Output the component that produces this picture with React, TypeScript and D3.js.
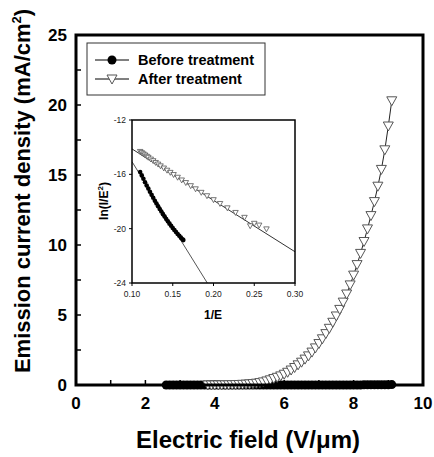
import React from "react";
import * as d3 from "d3";

// Main plot data
const beforeE = [2.6,2.7,2.8,2.9,3.0,3.1,3.2,3.3,3.4,3.5,3.6,3.7,3.8,3.9,4.0,4.1,4.2,4.3,4.4,4.5,4.6,4.7,4.8,4.9,5.0,5.1,5.2,5.3,5.4,5.5,5.6,5.7,5.8,5.9,6.0,6.1,6.2,6.3,6.4,6.5,6.6,6.7,6.8,6.9,7.0,7.1,7.2,7.3,7.4,7.5,7.6,7.7,7.8,7.9,8.0,8.1,8.2,8.3,8.4,8.5,8.6,8.7,8.8,8.9,9.0,9.1];
const beforeJ = [0,0,0,0,0,0,0,0,0,0,0,0,0,0,0,0,0,0,0,0,0,0,0,0,0,0,0,0,0,0,0,0,0,0,0,0,0,0,0,0,0,0,0,0,0,0,0,0,0,0,0,0,0,0,0,0,0,0.01,0.01,0.01,0.01,0.01,0.02,0.02,0.02,0.03];
const afterE = [3.8,3.9,4.0,4.1,4.2,4.3,4.4,4.5,4.6,4.7,4.8,4.9,5.0,5.1,5.2,5.3,5.4,5.5,5.6,5.7,5.8,5.9,6.0,6.1,6.2,6.3,6.4,6.5,6.6,6.7,6.8,6.9,7.0,7.1,7.2,7.3,7.4,7.5,7.6,7.7,7.8,7.9,8.0,8.1,8.2,8.3,8.4,8.5,8.6,8.7,8.8,8.9,9.0,9.1];
const afterJ = [0.002,0.003,0.004,0.006,0.008,0.011,0.015,0.02,0.027,0.036,0.048,0.062,0.08,0.10,0.13,0.17,0.22,0.29,0.37,0.46,0.55,0.65,0.77,0.91,1.07,1.25,1.44,1.63,1.85,2.08,2.35,2.65,2.96,3.30,3.67,4.05,4.48,4.93,5.40,5.92,6.50,7.15,7.85,8.60,9.40,10.25,11.15,12.10,13.10,14.20,15.40,16.80,18.50,20.30];
const xTicks = [0,2,4,6,8,10];
const xMinorTicks = [1,2,3,4,5,6,7,8,9];
const yTicks = [0,5,10,15,20,25];
const yMinorTicks = [2.5,5,7.5,10,12.5,15,17.5,20,22.5];
const legendLabels = ["Before treatment", "After treatment"];

// Inset (Fowler-Nordheim) data
const insetBeforeX = [0.110,0.112,0.114,0.116,0.118,0.120,0.122,0.124,0.126,0.128,0.130,0.132,0.134,0.136,0.138,0.140,0.142,0.144,0.146,0.148,0.150,0.152,0.154,0.156,0.158,0.160,0.162,0.163];
const insetBeforeY = [-15.83,-16.08,-16.33,-16.58,-16.82,-17.05,-17.28,-17.51,-17.72,-17.94,-18.15,-18.35,-18.55,-18.74,-18.93,-19.11,-19.29,-19.46,-19.63,-19.79,-19.95,-20.10,-20.25,-20.39,-20.52,-20.66,-20.78,-20.84];
const insetAfterX = [0.110,0.112,0.114,0.116,0.118,0.120,0.123,0.126,0.129,0.132,0.135,0.139,0.143,0.147,0.151,0.156,0.161,0.166,0.172,0.178,0.185,0.192,0.200,0.208,0.217,0.227,0.238,0.245,0.250,0.256,0.265];
const insetAfterY = [-14.33,-14.42,-14.51,-14.59,-14.68,-14.76,-14.89,-15.01,-15.14,-15.26,-15.39,-15.55,-15.71,-15.87,-16.03,-16.23,-16.43,-16.62,-16.85,-17.08,-17.34,-17.59,-17.88,-18.16,-18.48,-18.82,-19.18,-19.80,-19.62,-19.75,-20.03];
const fitBeforeX = [0.10, 0.1924];
const fitBeforeY = [-15.07, -24];
const fitAfterX = [0.10, 0.30];
const fitAfterY = [-14.13, -21.7];
const insetXTicks = [0.10,0.15,0.20,0.25,0.30];
const insetYTicks = [-12,-16,-20,-24];

const FONT = "'Liberation Sans', Arial, sans-serif";

const tri = (s: number) => `M${-5*s},${-4*s}L${5*s},${-4*s}L0,${5*s}Z`;

export default function App() {
  const x = d3.scaleLinear().domain([0, 10]).range([76, 423]);
  const y = d3.scaleLinear().domain([0, 25]).range([385, 35]);
  const ix = d3.scaleLinear().domain([0.10, 0.30]).range([132, 295]);
  const iy = d3.scaleLinear().domain([-12, -24]).range([120, 283]);

  const lineMain = d3.line<[number, number]>().x(d => x(d[0])).y(d => y(d[1]));
  const lineInset = d3.line<[number, number]>().x(d => ix(d[0])).y(d => iy(d[1]));

  const before: [number, number][] = beforeE.map((e, i) => [e, beforeJ[i]]);
  const after: [number, number][] = afterE.map((e, i) => [e, afterJ[i]]);
  const insB: [number, number][] = insetBeforeX.map((v, i) => [v, insetBeforeY[i]]);
  const insA: [number, number][] = insetAfterX.map((v, i) => [v, insetAfterY[i]]);
  const fitB: [number, number][] = fitBeforeX.map((v, i) => [v, fitBeforeY[i]]);
  const fitA: [number, number][] = fitAfterX.map((v, i) => [v, fitAfterY[i]]);

  return (
    <svg width={434} height={457} style={{ position: "absolute", left: 0, top: 0, background: "#fff" }} fontFamily={FONT}>
      <rect x={0} y={0} width={434} height={457} fill="#fff" />
      <defs>
        <clipPath id="insetClip">
          <rect x={132} y={120} width={163} height={163} />
        </clipPath>
      </defs>

      {/* minor/major ticks (inward) */}
      {xMinorTicks.map(t => (
        <line key={"xt" + t} x1={x(t)} x2={x(t)} y1={y(0)} y2={y(0) - 5} stroke="#000" strokeWidth={1.5} />
      ))}
      {yMinorTicks.map(t => (
        <line key={"yt" + t} x1={x(0)} x2={x(0) + 5} y1={y(t)} y2={y(t)} stroke="#000" strokeWidth={1.5} />
      ))}

      {/* Before treatment */}
      <path d={lineMain(before) || ""} fill="none" stroke="#000" strokeWidth={1} />
      {before.map((d, i) => (
        <circle key={"b" + i} cx={x(d[0])} cy={y(d[1])} r={4.5} fill="#000" />
      ))}

      {/* After treatment */}
      <path d={lineMain(after) || ""} fill="none" stroke="#222" strokeWidth={1} />
      {after.map((d, i) => (
        <path key={"a" + i} d={tri(1)} transform={`translate(${x(d[0])},${y(d[1])})`} fill="#fff" stroke="#555" strokeWidth={1} />
      ))}

      {/* frame */}
      <rect x={x(0)} y={y(25)} width={x(10) - x(0)} height={y(0) - y(25)} fill="none" stroke="#000" strokeWidth={3} />

      {/* tick labels */}
      {xTicks.map(t => (
        <text key={"xl" + t} x={x(t)} y={409} textAnchor="middle" fontSize={17} fontWeight="bold">{t}</text>
      ))}
      {yTicks.map(t => (
        <text key={"yl" + t} x={67} y={y(t) + 6} textAnchor="end" fontSize={17} fontWeight="bold">{t}</text>
      ))}

      {/* axis titles */}
      <text x={248} y={448} textAnchor="middle" fontSize={24} fontWeight="bold">Electric field (V/μm)</text>
      <text transform="translate(30,191) rotate(-90)" textAnchor="middle" fontSize={22} fontWeight="bold">
        Emission current density (mA/cm<tspan dy={-9} fontSize={13}>2</tspan><tspan dy={9}>)</tspan>
      </text>

      {/* legend */}
      <rect x={87} y={43} width={178} height={52} fill="#fff" stroke="#333" strokeWidth={1} />
      <line x1={95} x2={129} y1={60} y2={60} stroke="#000" strokeWidth={1} />
      <circle cx={112} cy={60} r={4.5} fill="#000" />
      <text x={138} y={65} fontSize={14.5} fontWeight="bold">{legendLabels[0]}</text>
      <line x1={95} x2={129} y1={79} y2={79} stroke="#000" strokeWidth={1} />
      <path d={tri(1)} transform="translate(112,79)" fill="#fff" stroke="#555" strokeWidth={1} />
      <text x={138} y={84} fontSize={14.5} fontWeight="bold">{legendLabels[1]}</text>

      {/* inset */}
      <rect x={132} y={120} width={163} height={163} fill="#fff" />
      <g clipPath="url(#insetClip)">
        <path d={lineInset(fitB) || ""} fill="none" stroke="#555" strokeWidth={1} />
        <path d={lineInset(fitA) || ""} fill="none" stroke="#333" strokeWidth={1} />
        {insB.map((d, i) => (
          <circle key={"ib" + i} cx={ix(d[0])} cy={iy(d[1])} r={2.3} fill="#000" />
        ))}
        {insA.map((d, i) => (
          <path key={"ia" + i} d={tri(0.55)} transform={`translate(${ix(d[0])},${iy(d[1])})`} fill="#fff" stroke="#555" strokeWidth={0.8} />
        ))}
      </g>
      <rect x={132} y={120} width={163} height={163} fill="none" stroke="#000" strokeWidth={1.5} />
      {insetXTicks.map(t => (
        <g key={"ixt" + t}>
          <line x1={ix(t)} x2={ix(t)} y1={283} y2={286} stroke="#000" strokeWidth={1} />
          <text x={ix(t)} y={297} textAnchor="middle" fontSize={8.5} fill="#222">{t.toFixed(2)}</text>
        </g>
      ))}
      {insetYTicks.map(t => (
        <g key={"iyt" + t}>
          <line x1={129} x2={132} y1={iy(t)} y2={iy(t)} stroke="#000" strokeWidth={1} />
          <text x={126} y={iy(t) + 3} textAnchor="end" fontSize={8.5} fill="#222">{t}</text>
        </g>
      ))}
      <text x={213} y={319} textAnchor="middle" fontSize={12} fontWeight="bold">1/E</text>
      <text transform="translate(108,201) rotate(-90)" textAnchor="middle" fontSize={12} fontWeight="bold">
        ln(I/E<tspan dy={-5} fontSize={8}>2</tspan><tspan dy={5}>)</tspan>
      </text>
    </svg>
  );
}
